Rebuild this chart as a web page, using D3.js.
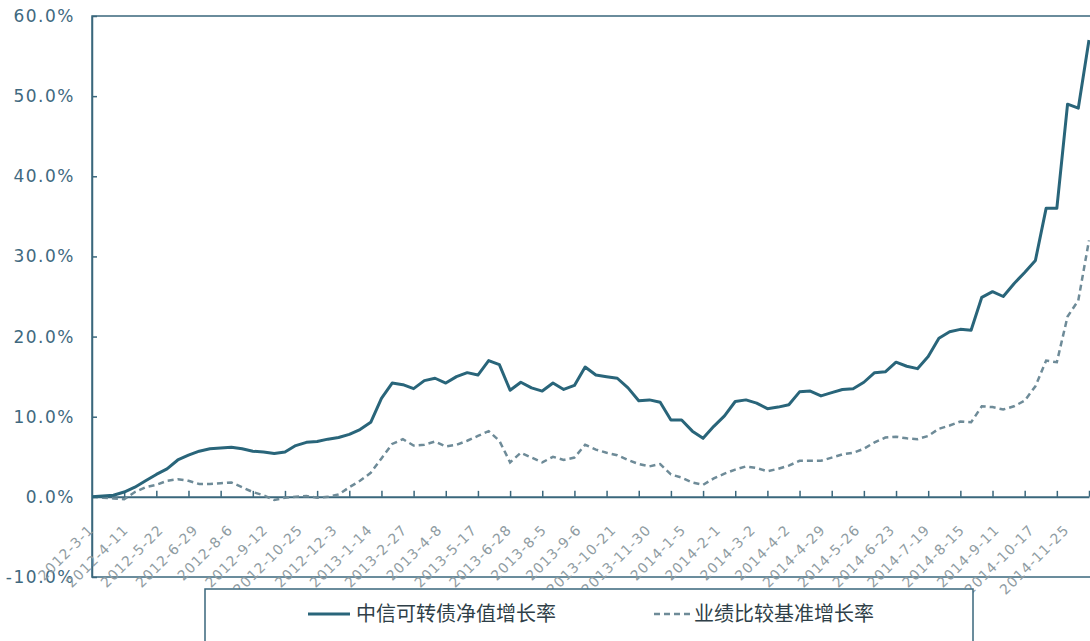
<!DOCTYPE html>
<html>
<head>
<meta charset="utf-8">
<script src="https://cdn.jsdelivr.net/npm/d3@7"></script>
<style>
  body { margin: 0; background: #fff; }
  .ylab { font: 17px "DejaVu Sans", sans-serif; letter-spacing: 1.5px; fill: #3f6980; }
  .xlab { font: 14px "DejaVu Sans", sans-serif; letter-spacing: 1px; fill: #8f9ca2; }
  .legtext { font: 20px "Noto Sans CJK SC", sans-serif; fill: #2f3f48; }
</style>
</head>
<body>
<script>
// x labels, one every 26 trading days
var dateLabels = ["2012-3-1", "2012-4-11", "2012-5-22", "2012-6-29", "2012-8-6", "2012-9-12",
    "2012-10-25", "2012-12-3", "2013-1-14", "2013-2-27", "2013-4-8", "2013-5-17", "2013-6-28",
    "2013-8-5", "2013-9-6", "2013-10-21", "2013-11-30", "2014-1-5", "2014-2-1", "2014-3-2",
    "2014-4-2", "2014-4-29", "2014-5-26", "2014-6-23", "2014-7-19", "2014-8-15", "2014-9-11",
    "2014-10-17", "2014-11-25"];

var yTicks = [-10, 0, 10, 20, 30, 40, 50, 60];

// growth rates (%), one sample every 8 trading days
var fundGrowth = [0.0, 0.1, 0.2, 0.6, 1.2, 2.0, 2.8, 3.5, 4.6, 5.2,
    5.7, 6.0, 6.1, 6.2, 6.0, 5.7, 5.6, 5.4, 5.6, 6.4,
    6.8, 6.9, 7.2, 7.4, 7.8, 8.4, 9.3, 12.3, 14.2, 14.0,
    13.5, 14.5, 14.8, 14.2, 15.0, 15.5, 15.2, 17.0, 16.5, 13.3,
    14.3, 13.6, 13.2, 14.2, 13.4, 13.9, 16.2, 15.2, 15.0, 14.8,
    13.6, 12.0, 12.1, 11.8, 9.6, 9.6, 8.2, 7.3, 8.8, 10.1,
    11.9, 12.1, 11.7, 11.0, 11.2, 11.5, 13.1, 13.2, 12.6, 13.0,
    13.4, 13.5, 14.3, 15.5, 15.6, 16.8, 16.3, 16.0, 17.5, 19.8,
    20.6, 20.9, 20.8, 24.9, 25.6, 25.0, 26.6, 28.0, 29.5, 36.0,
    36.0, 49.0, 48.5, 57.0];

var benchGrowth = [0.0, -0.1, -0.2, -0.3, 0.6, 1.2, 1.5, 2.0, 2.2, 2.0,
    1.6, 1.6, 1.7, 1.8, 1.2, 0.6, 0.2, -0.4, -0.1, 0.0,
    0.1, -0.1, 0.0, 0.3, 1.2, 2.0, 3.0, 4.8, 6.6, 7.2,
    6.4, 6.5, 6.9, 6.3, 6.5, 7.0, 7.6, 8.2, 7.0, 4.3,
    5.5, 4.9, 4.3, 5.0, 4.6, 4.9, 6.5, 5.9, 5.5, 5.2,
    4.6, 4.1, 3.8, 4.1, 2.8, 2.4, 1.8, 1.5, 2.3, 2.9,
    3.4, 3.8, 3.6, 3.2, 3.5, 3.9, 4.5, 4.5, 4.5, 4.9,
    5.3, 5.5, 6.0, 6.8, 7.4, 7.5, 7.3, 7.2, 7.6, 8.5,
    8.9, 9.4, 9.3, 11.3, 11.2, 10.9, 11.3, 12.0, 13.8, 17.0,
    16.8, 22.5, 24.5, 32.0];

var seriesNames = ["中信可转债净值增长率", "业绩比较基准增长率"];

var w = 1090,
    h = 641;
var plotLeft = 92, plotTop = 16, plotRight = 1090, plotBottom = 577;
var step = 8, labelEvery = 26, tickEvery = 24;
var lastDay = (fundGrowth.length - 1) * step;

var svg = d3.select("body").append("svg")
    .attr("width", w)
    .attr("height", h);

var x = d3.scaleLinear().domain([0, lastDay]).range([plotLeft, plotRight - 1]);
var y = d3.scaleLinear().domain([-10, 60]).range([plotBottom, plotTop]);

var axisColor = "#3a677c";

// plot frame
svg.append("rect")
    .attr("x", plotLeft)
    .attr("y", plotTop)
    .attr("width", plotRight - plotLeft + 20)
    .attr("height", plotBottom - plotTop)
    .attr("fill", "none")
    .attr("stroke", axisColor)
    .attr("stroke-width", 1.5);

// y axis
var yAxis = svg.append("g")
    .attr("transform", "translate(" + plotLeft + ",0)")
    .call(d3.axisLeft(y)
        .tickValues(yTicks)
        .tickSizeInner(-5)
        .tickSizeOuter(0)
        .tickPadding(17)
        .tickFormat(function(d) { return d.toFixed(1) + "%"; }));
yAxis.selectAll("line").attr("stroke", axisColor).attr("stroke-width", 1.5);
yAxis.select(".domain").attr("stroke", axisColor).attr("stroke-width", 1.5);
yAxis.selectAll("text").attr("class", "ylab").attr("fill", null);

// x axis at 0%
var tickDays = d3.range(tickEvery, lastDay + 1, tickEvery);
var xAxis = svg.append("g")
    .attr("transform", "translate(0," + y(0) + ")")
    .call(d3.axisBottom(x)
        .tickValues(tickDays)
        .tickSizeInner(-6)
        .tickSizeOuter(0)
        .tickFormat(""));
xAxis.selectAll("line").attr("stroke", axisColor).attr("stroke-width", 1.5);
xAxis.select(".domain").attr("stroke", axisColor).attr("stroke-width", 2);

// rotated date labels
var labelDays = dateLabels.map(function(d, i) { return i * labelEvery; });
var xLabels = svg.append("g")
    .attr("transform", "translate(0," + y(0) + ")")
    .call(d3.axisBottom(x)
        .tickValues(labelDays)
        .tickSize(0)
        .tickFormat(function(d, i) { return dateLabels[i]; }));
xLabels.select(".domain").remove();
xLabels.selectAll("text")
    .attr("class", "xlab")
    .attr("fill", null)
    .attr("x", 0)
    .attr("y", 0)
    .attr("dy", 0)
    .style("text-anchor", "end")
    .attr("transform", "translate(2,34) rotate(-45)");

// lines
var line = d3.line()
    .x(function(d, i) { return x(i * step); })
    .y(function(d) { return y(d); });

svg.append("path")
    .datum(benchGrowth)
    .attr("d", line)
    .attr("fill", "none")
    .attr("stroke", "#6e8b98")
    .attr("stroke-width", 2.5)
    .attr("stroke-dasharray", "6,4");

svg.append("path")
    .datum(fundGrowth)
    .attr("d", line)
    .attr("fill", "none")
    .attr("stroke", "#29657a")
    .attr("stroke-width", 3)
    .attr("stroke-linejoin", "round");

// legend
svg.append("rect")
    .attr("x", 205)
    .attr("y", 589)
    .attr("width", 768)
    .attr("height", 80)
    .attr("fill", "#fff")
    .attr("stroke", axisColor)
    .attr("stroke-width", 1.5);

svg.append("line")
    .attr("x1", 308).attr("y1", 614)
    .attr("x2", 350).attr("y2", 614)
    .attr("stroke", "#29657a")
    .attr("stroke-width", 3);

svg.append("text")
    .attr("class", "legtext")
    .attr("x", 356)
    .attr("y", 621)
    .text(seriesNames[0]);

svg.append("line")
    .attr("x1", 654).attr("y1", 614)
    .attr("x2", 690).attr("y2", 614)
    .attr("stroke", "#6e8b98")
    .attr("stroke-width", 2.5)
    .attr("stroke-dasharray", "6,4");

svg.append("text")
    .attr("class", "legtext")
    .attr("x", 694)
    .attr("y", 621)
    .text(seriesNames[1]);
</script>
</body>
</html>
